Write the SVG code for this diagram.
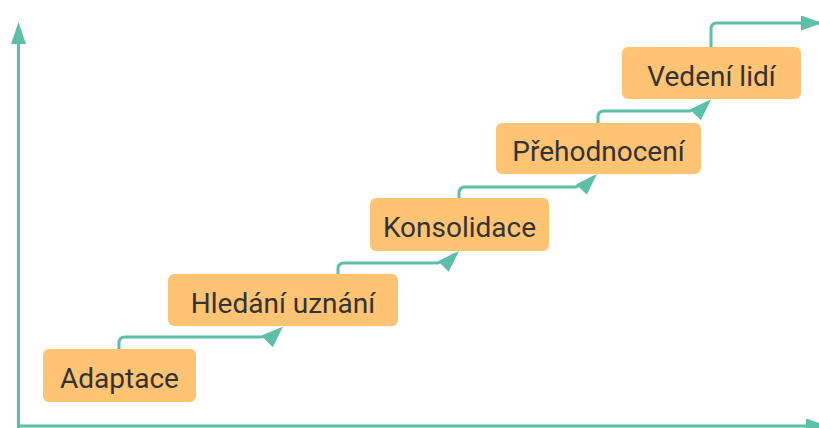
<svg xmlns="http://www.w3.org/2000/svg" width="819" height="428" viewBox="0 0 819 428">
  <style>
    .box { fill: #FFC374; stroke: none; }
    .lbl { font-family: Roboto, "Liberation Sans", Arial, sans-serif; font-size: 28px; fill: #333333; text-anchor: middle; }
    .ln { fill: none; stroke: #5CBFA7; stroke-width: 3; stroke-linejoin: round; }
  </style>
  <defs>
    <marker id="ah" markerUnits="userSpaceOnUse" viewBox="0 0 22 15" refX="18" refY="7.5" markerWidth="22" markerHeight="15" orient="auto">
      <path d="M0,0 L22,7.5 L0,15 Z" fill="#5CBFA7"/>
    </marker>
    <marker id="ahd" markerUnits="userSpaceOnUse" viewBox="0 0 22 15" refX="18" refY="7.5" markerWidth="22" markerHeight="15" orient="-45">
      <path d="M0,0 L22,7.5 L0,15 Z" fill="#5CBFA7"/>
    </marker>
  </defs>
  <g id="connectors">
    <path id="axis-y" class="ln" d="M18.5,428 V26" marker-end="url(#ah)"/>
    <path id="axis-x" class="ln" d="M17,426 H824" marker-end="url(#ah)"/>
    <path id="c1" class="ln" d="M119,349 V343 Q119,337 125,337 H262 L280.2,329.3" marker-end="url(#ahd)"/>
    <path id="c2" class="ln" d="M338,274 V269 Q338,263 344,263 H438 L456.2,253.8" marker-end="url(#ahd)"/>
    <path id="c3" class="ln" d="M459,198 V193 Q459,187 465,187 H576 L594.2,176.8" marker-end="url(#ahd)"/>
    <path id="c4" class="ln" d="M598,123 V117 Q598,111 604,111 H690 L708.2,102.3" marker-end="url(#ahd)"/>
    <path id="c5" class="ln" d="M711,47 V29 Q711,23 717,23 H819" marker-end="url(#ah)"/>
  </g>
  <g id="n1">
    <rect class="box" x="43" y="349" width="153" height="53" rx="6"/>
    <text class="lbl" x="119.5" y="388">Adaptace</text>
  </g>
  <g id="n2">
    <rect class="box" x="168" y="274" width="230" height="52" rx="6"/>
    <text class="lbl" x="283" y="313">Hledání uznání</text>
  </g>
  <g id="n3">
    <rect class="box" x="370" y="198" width="179" height="53" rx="6"/>
    <text class="lbl" x="459.5" y="237">Konsolidace</text>
  </g>
  <g id="n4">
    <rect class="box" x="496" y="123" width="205" height="51" rx="6"/>
    <text class="lbl" x="598.5" y="161">Přehodnocení</text>
  </g>
  <g id="n5">
    <rect class="box" x="622" y="47" width="179" height="52" rx="6"/>
    <text class="lbl" x="711.5" y="86">Vedení lidí</text>
  </g>
</svg>
